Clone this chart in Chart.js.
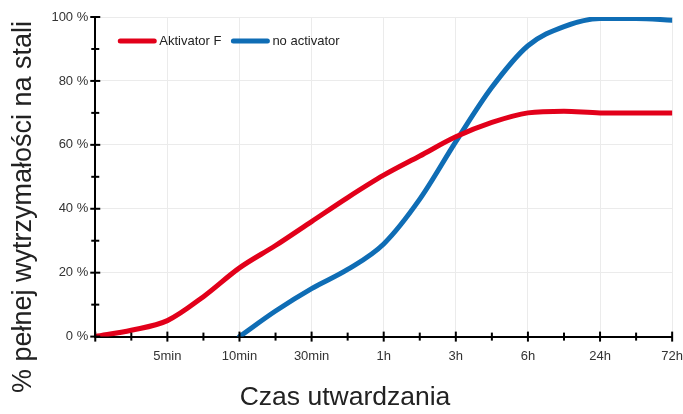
<!DOCTYPE html>
<html>
<head>
<meta charset="utf-8">
<script src="https://cdn.jsdelivr.net/npm/chart.js@4/dist/chart.umd.min.js"></script>
<style>
  html, body { margin: 0; padding: 0; background: #fff; }
  #wrap { width: 683px; height: 414px; }
</style>
</head>
<body>
<div id="wrap"><canvas id="chart"></canvas></div>
<script>
// ——— Data ———
const xLabels = ['', '5min', '10min', '30min', '1h', '3h', '6h', '24h', '72h'];

const activatorX = [0, 0.5, 1, 1.5, 2, 2.5, 3, 3.5, 4, 4.5, 5, 5.5, 6, 6.5, 7, 7.5, 8];
const activatorY = [0, 2, 5, 12.5, 21.5, 28.5, 36, 43.5, 50.5, 56.5, 62.5, 67, 70, 70.5, 70, 70, 70];

const noActX = [2, 2.5, 3, 3.5, 4, 4.5, 5, 5.5, 6, 6.5, 7, 7.5, 8];
const noActY = [0, 8, 15, 21, 29, 43, 61, 78, 91, 97, 99.5, 99.5, 99];

const RED = '#e2001a';
const BLUE = '#0f6db5';

const toPoints = (xs, ys) => xs.map((x, i) => ({ x, y: ys[i] }));

// ——— tick marks crossing the axis lines ———
const crossTicks = {
  id: 'crossTicks',
  afterDraw(chart) {
    const { ctx, chartArea, scales } = chart;
    ctx.save();
    ctx.strokeStyle = '#000';
    ctx.lineWidth = 2;
    scales.x.ticks.forEach(t => {
      const px = scales.x.getPixelForValue(t.value);
      const len = Number.isInteger(t.value) ? 5 : 4;
      ctx.beginPath();
      ctx.moveTo(px, chartArea.bottom - len);
      ctx.lineTo(px, chartArea.bottom + len);
      ctx.stroke();
    });
    scales.y.ticks.forEach(t => {
      const py = scales.y.getPixelForValue(t.value);
      const len = t.value % 20 === 0 ? 5 : 4;
      ctx.beginPath();
      ctx.moveTo(chartArea.left - len, py);
      ctx.lineTo(chartArea.left + len, py);
      ctx.stroke();
    });
    ctx.restore();
  }
};

// ——— legend inside the plot, top-left ———
const innerLegend = {
  id: 'innerLegend',
  afterDatasetsDraw(chart) {
    const { ctx, chartArea } = chart;
    let x = chartArea.left + 25;
    const y = chartArea.top + 24;
    ctx.save();
    ctx.font = '13px "Liberation Sans", Arial, sans-serif';
    ctx.textBaseline = 'middle';
    chart.data.datasets.forEach(ds => {
      ctx.strokeStyle = ds.borderColor;
      ctx.lineWidth = 5;
      ctx.lineCap = 'round';
      ctx.beginPath();
      ctx.moveTo(x, y);
      ctx.lineTo(x + 34, y);
      ctx.stroke();
      x += 39;
      ctx.fillStyle = '#222';
      ctx.fillText(ds.label, x, y);
      x += ctx.measureText(ds.label).width + 12;
    });
    ctx.restore();
  }
};

const tickFont = { family: '"Liberation Sans", Arial, sans-serif', size: 13 };

new Chart(document.getElementById('chart'), {
  type: 'line',
  data: {
    datasets: [
      {
        label: 'Aktivator F',
        data: toPoints(activatorX, activatorY),
        borderColor: RED,
        backgroundColor: RED,
        borderWidth: 5,
        pointRadius: 0,
        cubicInterpolationMode: 'monotone',
        borderCapStyle: 'round'
      },
      {
        label: 'no activator',
        data: toPoints(noActX, noActY),
        borderColor: BLUE,
        backgroundColor: BLUE,
        borderWidth: 5,
        pointRadius: 0,
        cubicInterpolationMode: 'monotone',
        borderCapStyle: 'round'
      }
    ]
  },
  options: {
    responsive: true,
    maintainAspectRatio: false,
    animation: false,
    layout: { padding: { left: 7, top: 0, right: 0, bottom: 0 } },
    plugins: {
      legend: { display: false },
      title: {
        display: true,
        position: 'bottom',
        text: 'Czas utwardzania',
        color: '#222',
        font: { family: '"Liberation Sans", Arial, sans-serif', size: 26.5, weight: 'normal' },
        padding: { top: 18, bottom: 0 }
      },
      subtitle: {
        display: true,
        position: 'left',
        text: '% pełnej wytrzymałości na stali',
        color: '#222',
        font: { family: '"Liberation Sans", Arial, sans-serif', size: 27, weight: 'normal' },
        padding: { top: 0, bottom: 5 }
      },
      tooltip: { enabled: false }
    },
    scales: {
      x: {
        type: 'linear',
        min: 0,
        max: 8,
        grid: {
          drawTicks: true,
          tickLength: 12,
          tickColor: 'rgba(0,0,0,0)',
          color: c => Number.isInteger(c.tick.value) ? '#ebebeb' : 'rgba(0,0,0,0)',
          lineWidth: 1
        },
        border: { color: '#000', width: 2 },
        ticks: {
          stepSize: 0.5,
          autoSkip: false,
          maxRotation: 0,
          padding: 0,
          color: '#333',
          font: tickFont,
          callback: v => Number.isInteger(v) ? xLabels[v] : ''
        }
      },
      y: {
        min: 0,
        max: 100,
        grid: {
          drawTicks: false,
          color: c => c.tick.value % 20 === 0 ? '#ebebeb' : 'rgba(0,0,0,0)',
          lineWidth: 1
        },
        border: { color: '#000', width: 2 },
        ticks: {
          stepSize: 10,
          padding: 7,
          color: '#333',
          font: { ...tickFont, lineHeight: 1.54 },
          callback: v => v % 20 === 0 ? v + ' %' : ''
        }
      }
    }
  },
  plugins: [crossTicks, innerLegend]
});
</script>
</body>
</html>
